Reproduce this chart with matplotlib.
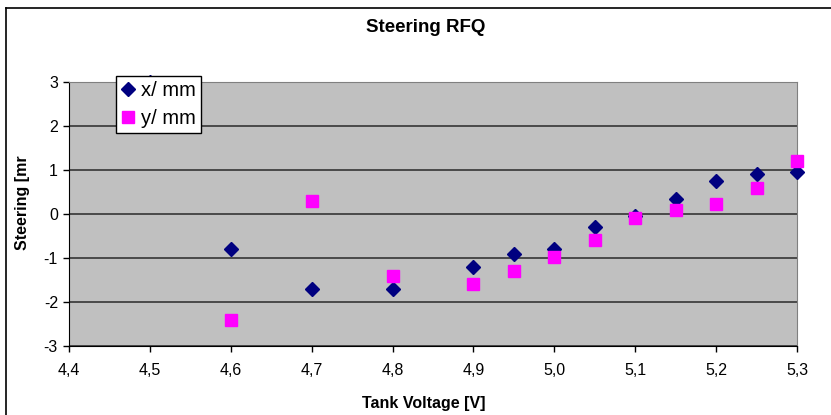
#!/usr/bin/env python3

import matplotlib
matplotlib.use('Agg')
import matplotlib.pyplot as plt
from matplotlib.lines import Line2D
from matplotlib.ticker import FuncFormatter

matplotlib.rcParams.update({'font.family': 'Liberation Sans', 'font.size': 10})

# data
voltage = [4.5, 4.6, 4.7, 4.8, 4.9, 4.95, 5.0, 5.05, 5.1, 5.15, 5.2, 5.25, 5.3]
steer_x = [3.0, -0.8, -1.7, -1.7, -1.2, -0.92, -0.8, -0.3, -0.05, 0.35, 0.75, 0.92, 0.95]
voltage_y = [4.6, 4.7, 4.8, 4.9, 4.95, 5.0, 5.05, 5.1, 5.15, 5.2, 5.25, 5.3]
steer_y = [-2.4, 0.3, -1.4, -1.6, -1.3, -0.98, -0.58, -0.1, 0.08, 0.22, 0.6, 1.2]

x_ticks = [4.4, 4.5, 4.6, 4.7, 4.8, 4.9, 5.0, 5.1, 5.2, 5.3]
y_ticks = [-3, -2, -1, 0, 1, 2, 3]

fig = plt.figure(figsize=(8.31, 4.15), dpi=100)
ax = fig.add_axes([69/831, 1 - 346/415, (797 - 69)/831, (346 - 82)/415])

# outer chart border (only left & top visible in the reference)
fig.add_artist(Line2D([6/831, 6/831], [0, 1 - 8/415], color='k', lw=1.2, transform=fig.transFigure))
fig.add_artist(Line2D([6/831, 1], [1 - 8/415, 1 - 8/415], color='k', lw=1.2, transform=fig.transFigure))

ax.set_facecolor('#c0c0c0')
for y in y_ticks:
    ax.axhline(y, color='#404040', lw=1.3, zorder=1)

ax.plot(voltage, steer_x, 'D', color='#000080', ms=7.2, mec='#000080', label='x/ mm', zorder=3, clip_on=False)
ax.plot(voltage_y, steer_y, 's', color='#ff00ff', ms=8.6, mec='#ff00ff', label='y/ mm', zorder=3, clip_on=False)

ax.set_xlim(4.4, 5.3)
ax.set_ylim(-3, 3)
ax.set_xticks(x_ticks)
ax.set_yticks(y_ticks)
ax.xaxis.set_major_formatter(FuncFormatter(lambda v, p: f'{v:.1f}'.replace('.', ',')))
ax.yaxis.set_major_formatter(FuncFormatter(lambda v, p: f'{v:.0f}'))
ax.tick_params(direction='out', length=4, width=1, labelsize=11.5, pad=4)
ax.tick_params(axis='x', pad=8)

for s in ['left', 'bottom']:
    ax.spines[s].set_color('k')
for s in ['right', 'top']:
    ax.spines[s].set_color('#808080')

fig.text(426/831, 1 - 28/415, 'Steering RFQ', ha='center', va='center', fontsize=13.5, fontweight='bold')
fig.text(424/831, 1 - 403/415, 'Tank Voltage [V]', ha='center', va='center', fontsize=11.5, fontweight='bold')
fig.text(23/831, 1 - 203/415, 'Steering [mr', ha='center', va='center', rotation=90, fontsize=11.5, fontweight='bold')

leg = ax.legend(loc='upper left', bbox_to_anchor=(116/831, 1 - 76/415), bbox_transform=fig.transFigure,
                fancybox=False, framealpha=1, edgecolor='k', fontsize=14.5, handlelength=0.7,
                handletextpad=0.3, borderpad=0.25, labelspacing=0.45, borderaxespad=0)
leg.get_frame().set_linewidth(1)
leg.set_zorder(5)

fig.savefig('out.png', dpi=100)
